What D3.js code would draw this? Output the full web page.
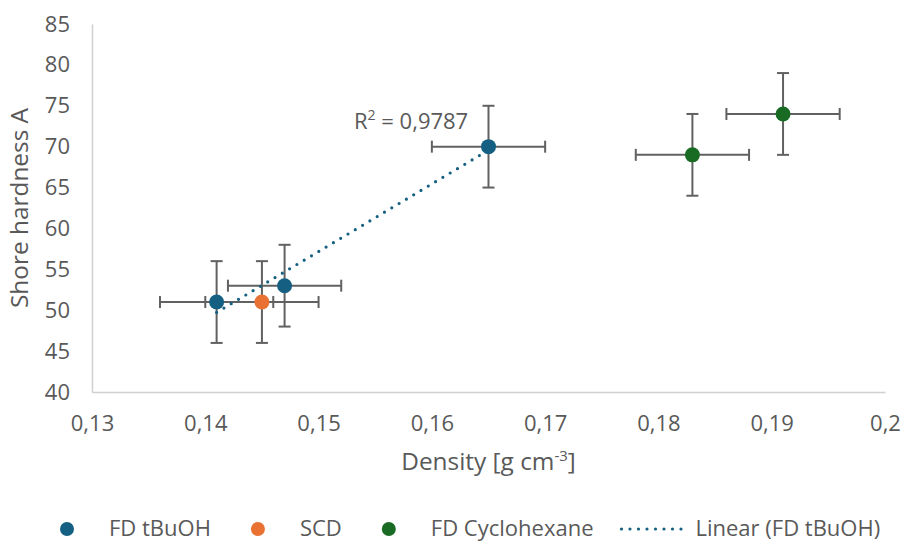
<!DOCTYPE html>
<html>
<head>
<meta charset="utf-8">
<title>Shore hardness vs density</title>
<script src="https://d3js.org/d3.v7.min.js"></script>
<style>
  html, body { margin: 0; padding: 0; background: #fff; }
  svg { display: block; font-family: "Open Sans", sans-serif; }
  .axis text { fill: #595959; font-size: 22px; font-family: "Open Sans", sans-serif; }
  .axis path { stroke: #d0d0d0; stroke-width: 1.5px; }
  .title { fill: #595959; font-size: 24.4px; }
  .lbl { fill: #595959; font-size: 22px; }
  .err { stroke: #616161; stroke-width: 2px; fill: none; }
</style>
</head>
<body>
<svg id="chart" width="905" height="542"></svg>
<script>
// values
var tbuohDensity = [0.141, 0.147, 0.165];
var tbuohHardness = [51, 53, 70];
var scdDensity = [0.145];
var scdHardness = [51];
var cycloDensity = [0.183, 0.191];
var cycloHardness = [69, 74];
var densityErr = 0.005;   // same bar on every point
var hardnessErr = 5;

var xTicks = [0.13, 0.14, 0.15, 0.16, 0.17, 0.18, 0.19, 0.2];
var xTickLabels = ["0,13", "0,14", "0,15", "0,16", "0,17", "0,18", "0,19", "0,2"];
var yTicks = [40, 45, 50, 55, 60, 65, 70, 75, 80, 85];

var series = [
    {name: "FD tBuOH", color: "#156082", x: tbuohDensity, y: tbuohHardness},
    {name: "SCD", color: "#E97132", x: scdDensity, y: scdHardness},
    {name: "FD Cyclohexane", color: "#196B24", x: cycloDensity, y: cycloHardness}
];

var svg = d3.select("#chart");
var pLeft = 92, pRight = 885, pTop = 24, pBottom = 392;

var x = d3.scaleLinear().domain([0.13, 0.2]).range([pLeft, pRight]);
var y = d3.scaleLinear().domain([40, 85]).range([pBottom, pTop]);

// axes, no tick marks
svg.append("g").attr("class", "axis")
    .attr("transform", "translate(0," + pBottom + ")")
    .call(d3.axisBottom(x).tickValues(xTicks)
        .tickFormat(function(d, i) { return xTickLabels[i]; })
        .tickSize(0).tickPadding(23.5));

svg.append("g").attr("class", "axis")
    .attr("transform", "translate(" + pLeft + ",0)")
    .call(d3.axisLeft(y).tickValues(yTicks).tickSize(0).tickPadding(22));

svg.selectAll(".axis text").attr("fill", "#595959");

// axis titles
var xt = svg.append("text").attr("class", "title")
    .attr("x", (pLeft + pRight) / 2).attr("y", 470)
    .attr("text-anchor", "middle");
xt.append("tspan").text("Density [g cm");
xt.append("tspan").attr("dy", -9).style("font-size", "15px").text("-3");
xt.append("tspan").attr("dy", 9).text("]");

svg.append("text").attr("class", "title")
    .attr("transform", "translate(28," + (pTop + pBottom) / 2 + ") rotate(-90)")
    .attr("text-anchor", "middle")
    .text("Shore hardness A");

// points
var pts = [];
series.forEach(function(s) {
    s.x.forEach(function(v, i) {
        pts.push({x: v, y: s.y[i], color: s.color});
    });
});

var cap = 6;
var eb = svg.append("g").attr("class", "err");
pts.forEach(function(p) {
    var cx = x(p.x), cy = y(p.y);
    var x0 = x(p.x - densityErr), x1 = x(p.x + densityErr);
    var y0 = y(p.y - hardnessErr), y1 = y(p.y + hardnessErr);
    eb.append("line").attr("x1", x0).attr("x2", x1).attr("y1", cy).attr("y2", cy);
    eb.append("line").attr("x1", x0).attr("x2", x0).attr("y1", cy - cap).attr("y2", cy + cap);
    eb.append("line").attr("x1", x1).attr("x2", x1).attr("y1", cy - cap).attr("y2", cy + cap);
    eb.append("line").attr("x1", cx).attr("x2", cx).attr("y1", y0).attr("y2", y1);
    eb.append("line").attr("x1", cx - cap).attr("x2", cx + cap).attr("y1", y0).attr("y2", y0);
    eb.append("line").attr("x1", cx - cap).attr("x2", cx + cap).attr("y1", y1).attr("y2", y1);
});

svg.append("g").selectAll("circle").data(pts).enter().append("circle")
    .attr("cx", function(d) { return x(d.x); })
    .attr("cy", function(d) { return y(d.y); })
    .attr("r", 7.5)
    .attr("fill", function(d) { return d.color; });

// linear trend of FD tBuOH
var mx = d3.mean(tbuohDensity), my = d3.mean(tbuohHardness);
var sxy = 0, sxx = 0, syy = 0;
tbuohDensity.forEach(function(v, i) {
    sxy += (v - mx) * (tbuohHardness[i] - my);
    sxx += (v - mx) * (v - mx);
    syy += (tbuohHardness[i] - my) * (tbuohHardness[i] - my);
});
var slope = sxy / sxx, icpt = my - slope * mx;
var r2 = sxy * sxy / (sxx * syy);
var ext = d3.extent(tbuohDensity);

var trend = d3.line()
    .x(function(d) { return x(d); })
    .y(function(d) { return y(icpt + slope * d); });

svg.append("path")
    .attr("d", trend(ext))
    .attr("fill", "none")
    .attr("stroke", "#156082")
    .attr("stroke-width", 3.2)
    .attr("stroke-linecap", "round")
    .attr("stroke-dasharray", "0 8.5");

var rt = svg.append("text").attr("class", "lbl").attr("x", 354).attr("y", 129);
rt.append("tspan").text("R");
rt.append("tspan").attr("dy", -9).style("font-size", "14px").text("2");
rt.append("tspan").attr("dy", 9).text(" = " + d3.format(".4f")(r2).replace(".", ","));

// legend
var legend = series.map(function(s) { return {name: s.name, color: s.color, kind: "dot"}; });
legend.push({name: "Linear (FD tBuOH)", color: "#156082", kind: "line"});

var lx = 60, ly = 529, lbase = 536;
var lg = svg.append("g");
legend.forEach(function(it) {
    var t;
    if (it.kind === "dot") {
        lg.append("circle").attr("cx", lx + 7).attr("cy", ly).attr("r", 7).attr("fill", it.color);
        t = lg.append("text").attr("class", "lbl").attr("x", lx + 49).attr("y", lbase).text(it.name);
        lx = lx + 49 + t.node().getComputedTextLength() + 40;
    } else {
        lx = lx - 27 + 13;
        lg.append("line").attr("x1", lx + 2).attr("x2", lx + 70).attr("y1", ly).attr("y2", ly)
            .attr("stroke", it.color).attr("stroke-width", 3.2)
            .attr("stroke-linecap", "round").attr("stroke-dasharray", "0 8.5");
        t = lg.append("text").attr("class", "lbl").attr("x", lx + 76).attr("y", lbase).text(it.name);
    }
});
</script>
</body>
</html>
